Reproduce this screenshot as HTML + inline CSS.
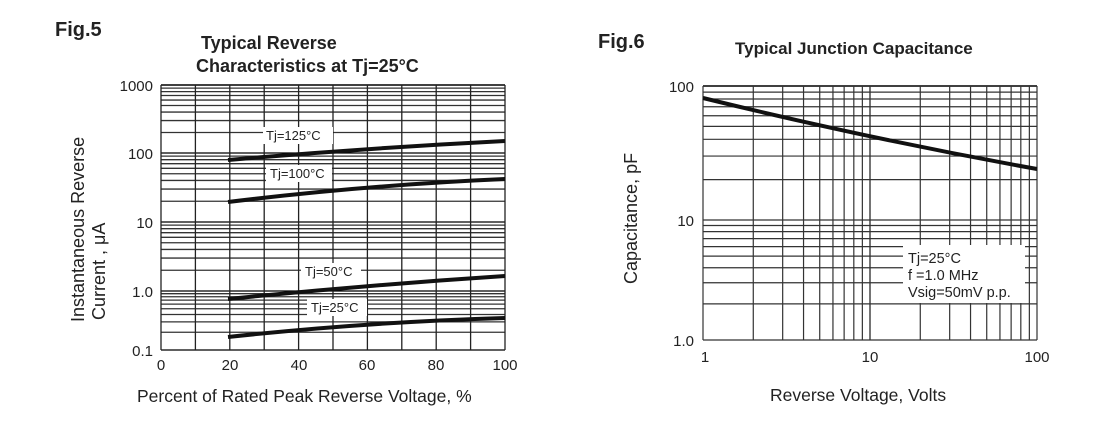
<!DOCTYPE html>
<html><head><meta charset="utf-8"><style>
body{margin:0;background:#fff;width:1100px;height:425px;overflow:hidden}
svg{font-family:"Liberation Sans",sans-serif}
</style></head><body>
<svg id="s" width="1100" height="425" xmlns="http://www.w3.org/2000/svg">
<text x="55" y="36" font-size="20" font-weight="bold" fill="#222">Fig.5</text>
<text x="201" y="49" font-size="18" font-weight="bold" fill="#222">Typical Reverse</text>
<text x="196" y="72" font-size="18" font-weight="bold" fill="#222">Characteristics at Tj=25°C</text>
<text x="598" y="48" font-size="20" font-weight="bold" fill="#222">Fig.6</text>
<text x="735" y="54" font-size="17" font-weight="bold" fill="#222">Typical Junction Capacitance</text>
<g id="g1"></g><g id="g2"></g>
<g font-size="15" fill="#222" text-anchor="end">
<text x="153" y="91">1000</text><text x="153" y="159">100</text><text x="153" y="228">10</text>
<text x="153" y="297">1.0</text><text x="153" y="356">0.1</text>
<text x="694" y="92">100</text><text x="694" y="226">10</text><text x="694" y="346">1.0</text>
</g>
<g font-size="15" fill="#222" text-anchor="middle">
<text x="161" y="370">0</text><text x="230" y="370">20</text><text x="299" y="370">40</text><text x="367" y="370">60</text><text x="436" y="370">80</text><text x="505" y="370">100</text>
<text x="705" y="362">1</text><text x="870" y="362">10</text><text x="1037" y="362">100</text>
</g>
<text x="137" y="402" font-size="17.5" fill="#222">Percent of Rated Peak Reverse  Voltage, %</text>
<text x="770" y="401" font-size="17.5" fill="#222">Reverse Voltage, Volts</text>
<text transform="translate(84,322) rotate(-90)" font-size="18" fill="#222">Instantaneous Reverse</text>
<text transform="translate(105,320) rotate(-90)" font-size="18" fill="#222">Current , μA</text>
<text transform="translate(637,284) rotate(-90)" font-size="18" fill="#222">Capacitance, pF</text>
<g fill="none" stroke="#111" stroke-width="4">
<path d="M228,160 Q367,148 505,141"/>
<path d="M228,202 Q367,185 505,179"/>
<path d="M228,299 Q367,285 505,276"/>
<path d="M228,337 Q367,322 505,318"/>
<path d="M703,98 Q870,139 1037,169"/>
</g>
<g font-size="13" fill="#222">
<rect x="263" y="127" width="70" height="17" fill="#fff"/><text x="266" y="140">Tj=125°C</text>
<rect x="266" y="165" width="66" height="17" fill="#fff"/><text x="270" y="178">Tj=100°C</text>
<rect x="301" y="263" width="60" height="17" fill="#fff"/><text x="305" y="276">Tj=50°C</text>
<rect x="307" y="299" width="60" height="17" fill="#fff"/><text x="311" y="312">Tj=25°C</text>
</g>
<rect x="903" y="245" width="122" height="58" fill="#fff"/>
<g font-size="14.5" fill="#222"><text x="908" y="263">Tj=25°C</text><text x="908" y="280">f =1.0 MHz</text><text x="908" y="297">Vsig=50mV p.p.</text></g>
</svg>
<script>
var ns="http://www.w3.org/2000/svg";
function L(g,x1,y1,x2,y2,c,w){var l=document.createElementNS(ns,"line");l.setAttribute("x1",x1);l.setAttribute("y1",y1);l.setAttribute("x2",x2);l.setAttribute("y2",y2);l.setAttribute("stroke",c);l.setAttribute("stroke-width",w);g.appendChild(l);}
var g1=document.getElementById("g1"),g2=document.getElementById("g2");
var d1=[350,291,222,153,85];
for(var k=0;k<4;k++){for(var m=1;m<=9;m++){var y=d1[k]-(d1[k]-d1[k+1])*Math.log10(m);L(g1,161,y,505,y,m==1?"#000":"#333",1.3);}}
L(g1,161,85,505,85,"#000",1.5);
for(var i=0;i<=10;i++){var x=161+i*34.4;L(g1,x,85,x,350,"#222",1.3);}
var d2=[340,220,86];
for(var k=0;k<2;k++){for(var m=1;m<=9;m++){var y=d2[k]-(d2[k]-d2[k+1])*Math.log10(m);L(g2,703,y,1037,y,"#333",1.2);}}
L(g2,703,86,1037,86,"#000",1.5);
for(var k=0;k<2;k++){for(var m=1;m<=10;m++){var x=703+167*k+167*Math.log10(m);L(g2,x,86,x,340,"#333",1.2);}}
</script>
</body></html>
